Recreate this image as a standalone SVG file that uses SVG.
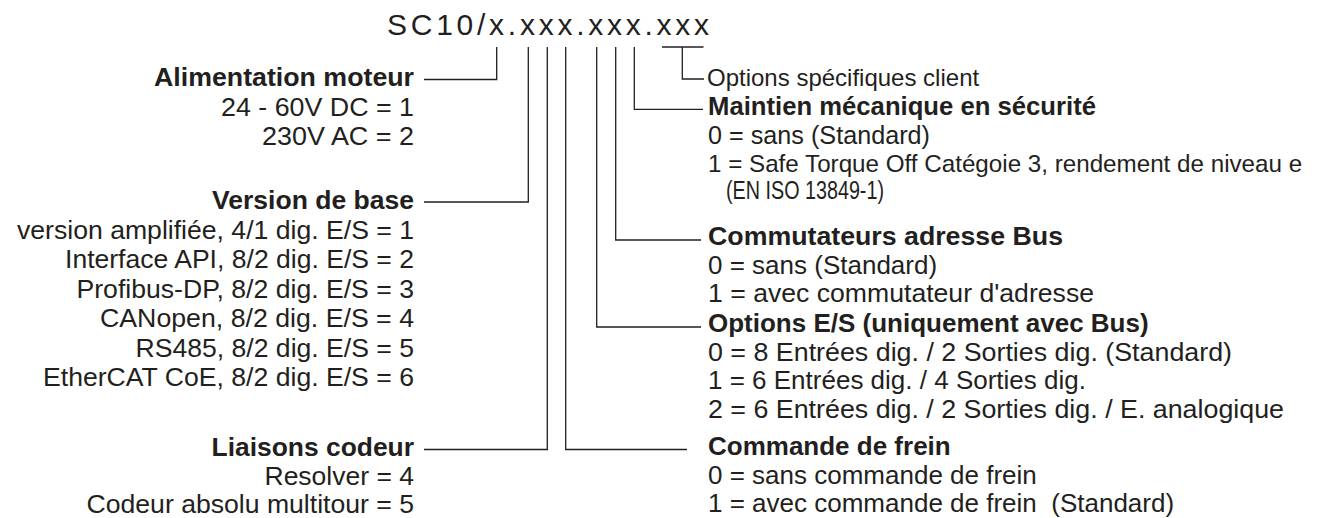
<svg xmlns="http://www.w3.org/2000/svg" width="1333" height="518" viewBox="0 0 1333 518">
<style>
text{font-family:"Liberation Sans",Arial,sans-serif;fill:#231f20;font-size:26px}
.b{font-weight:bold}
.c line,.c polyline{stroke:#231f20;stroke-width:1.3;fill:none}
</style>
<rect width="1333" height="518" fill="#fff"/>
<g id="title"><text x="387" y="35" style="font-size:30px" textLength="322" lengthAdjust="spacing">SC10/x.xxx.xxx.xxx</text></g>
<g class="c" id="connectors">
<polyline points="424,79.5 496.7,79.5 496.7,47"/>
<polyline points="424,202 528.3,202 528.3,47"/>
<polyline points="424,449.5 547.3,449.5 547.3,47"/>
<polyline points="565.7,47 565.7,449.5 687,449.5"/>
<polyline points="596.7,47 596.7,327 701,327"/>
<polyline points="615.7,47 615.7,240 701,240"/>
<polyline points="634.3,47 634.3,109.3 703,109.3"/>
<line x1="662" y1="47" x2="703.5" y2="47"/>
<polyline points="682.3,47 682.3,79 704,79"/>
</g>
<g id="alimentation">
<text class="b" x="154" y="86" textLength="260" lengthAdjust="spacingAndGlyphs">Alimentation moteur</text>
<text x="221" y="115.5" textLength="193" lengthAdjust="spacingAndGlyphs">24 - 60V DC = 1</text>
<text x="262" y="145" textLength="152" lengthAdjust="spacingAndGlyphs">230V AC = 2</text>
</g>
<g id="version">
<text class="b" x="212" y="209" textLength="202" lengthAdjust="spacingAndGlyphs">Version de base</text>
<text x="17" y="238.5" textLength="397" lengthAdjust="spacingAndGlyphs">version amplifiée, 4/1 dig. E/S = 1</text>
<text x="65" y="268" textLength="349" lengthAdjust="spacingAndGlyphs">Interface API, 8/2 dig. E/S = 2</text>
<text x="76.5" y="297.5" textLength="337.5" lengthAdjust="spacingAndGlyphs">Profibus-DP, 8/2 dig. E/S = 3</text>
<text x="100" y="327" textLength="314" lengthAdjust="spacingAndGlyphs">CANopen, 8/2 dig. E/S = 4</text>
<text x="135.5" y="356.5" textLength="278.5" lengthAdjust="spacingAndGlyphs">RS485, 8/2 dig. E/S = 5</text>
<text x="43" y="386" textLength="371" lengthAdjust="spacingAndGlyphs">EtherCAT CoE, 8/2 dig. E/S = 6</text>
</g>
<g id="liaisons">
<text class="b" x="211.5" y="456" textLength="202.5" lengthAdjust="spacingAndGlyphs">Liaisons codeur</text>
<text x="264.5" y="484.5" textLength="149.5" lengthAdjust="spacingAndGlyphs">Resolver = 4</text>
<text x="86.5" y="512.5" textLength="327.5" lengthAdjust="spacingAndGlyphs">Codeur absolu multitour = 5</text>
</g>
<g id="options-client">
<text x="707" y="86" style="font-size:24px">Options spécifiques client</text>
</g>
<g id="maintien">
<text class="b" x="708" y="115" textLength="388" lengthAdjust="spacingAndGlyphs">Maintien mécanique en sécurité</text>
<text x="708" y="143.5" textLength="222" lengthAdjust="spacingAndGlyphs">0 = sans (Standard)</text>
<text x="708" y="172" style="font-size:24.2px">1 = Safe Torque Off Catégoie 3, rendement de niveau e</text>
<text x="726" y="199" textLength="158" lengthAdjust="spacingAndGlyphs">(EN ISO 13849-1)</text>
</g>
<g id="commutateurs">
<text class="b" x="708" y="245" textLength="355" lengthAdjust="spacingAndGlyphs">Commutateurs adresse Bus</text>
<text x="708" y="274">0 = sans (Standard)</text>
<text x="708" y="302" textLength="386" lengthAdjust="spacingAndGlyphs">1 = avec commutateur d'adresse</text>
</g>
<g id="options-es">
<text class="b" x="708" y="332">Options E/S (uniquement avec Bus)</text>
<text x="708" y="361" textLength="524" lengthAdjust="spacingAndGlyphs">0 = 8 Entrées dig. / 2 Sorties dig. (Standard)</text>
<text x="708" y="389">1 = 6 Entrées dig. / 4 Sorties dig.</text>
<text x="708" y="418" textLength="576" lengthAdjust="spacingAndGlyphs">2 = 6 Entrées dig. / 2 Sorties dig. / E. analogique</text>
</g>
<g id="commande">
<text class="b" x="708" y="455">Commande de frein</text>
<text x="708" y="484">0 = sans commande de frein</text>
<text x="708" y="512" xml:space="preserve">1 = avec commande de frein  (Standard)</text>
</g>
</svg>
